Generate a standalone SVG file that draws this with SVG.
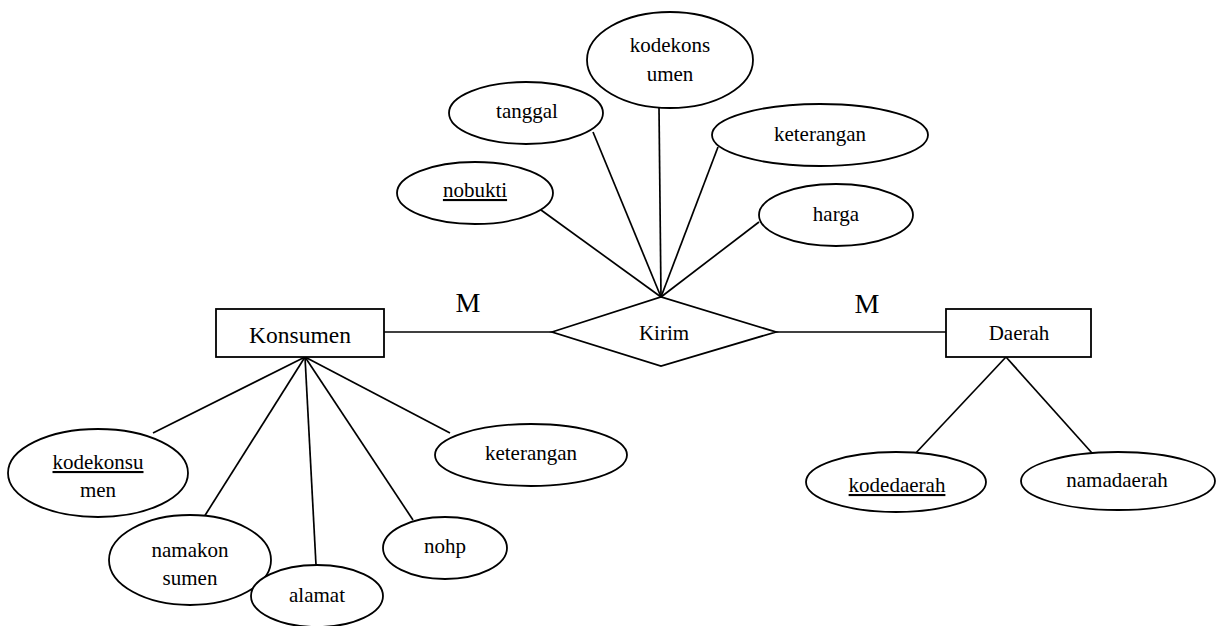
<svg xmlns="http://www.w3.org/2000/svg" width="1219" height="626" viewBox="0 0 1219 626" font-family="Liberation Serif, serif">
<style>
.s{fill:#fff;stroke:#000;stroke-width:1.8}
.c line{stroke:#000;stroke-width:1.7}
text{font-family:'Liberation Serif',serif;font-size:21px;fill:#000;text-anchor:middle}
.u{text-decoration:underline}
.big{font-size:23.5px}
.m{font-size:28px}
</style>
<rect width="1219" height="626" fill="#fff"/>
<g id="connectors" class="c">
<line x1="659" y1="108" x2="661" y2="297"/>
<line x1="593" y1="132" x2="661" y2="297"/>
<line x1="541" y1="210" x2="661" y2="297"/>
<line x1="718" y1="147" x2="661" y2="297"/>
<line x1="759" y1="222" x2="661" y2="297"/>
<line x1="384" y1="332" x2="552" y2="332"/>
<line x1="776" y1="332" x2="946" y2="332"/>
<line x1="305" y1="357" x2="153" y2="433"/>
<line x1="305" y1="357" x2="204" y2="517"/>
<line x1="305" y1="357" x2="316" y2="565"/>
<line x1="305" y1="357" x2="413" y2="520"/>
<line x1="305" y1="357" x2="450" y2="433"/>
<line x1="1006" y1="357" x2="913" y2="456"/>
<line x1="1006" y1="357" x2="1092" y2="453"/>
</g>
<g id="card-left"><text class="m" x="468" y="312">M</text></g>
<g id="card-right"><text class="m" x="867" y="313">M</text></g>
<g id="konsumen"><rect class="s" x="216" y="309" width="168" height="48"/><text class="big" x="300" y="343">Konsumen</text></g>
<g id="kirim"><polygon class="s" points="552,332 661,297 776,332 661,366"/><text x="664" y="340">Kirim</text></g>
<g id="daerah"><rect class="s" x="946" y="309" width="145" height="48"/><text x="1019" y="340">Daerah</text></g>
<g id="kodekonsumen-kirim"><ellipse class="s" cx="670" cy="60" rx="83" ry="48"/><text x="670" y="52">kodekons</text><text x="670" y="81">umen</text></g>
<g id="tanggal"><ellipse class="s" cx="526" cy="113" rx="77" ry="31"/><text x="527" y="118">tanggal</text></g>
<g id="nobukti"><ellipse class="s" cx="475" cy="193" rx="78" ry="31"/><text class="u" x="475" y="197">nobukti</text></g>
<g id="keterangan-kirim"><ellipse class="s" cx="820" cy="135" rx="108" ry="31"/><text x="820" y="141">keterangan</text></g>
<g id="harga"><ellipse class="s" cx="836" cy="215" rx="77" ry="31"/><text x="836" y="221">harga</text></g>
<g id="kodekonsumen"><ellipse class="s" cx="98" cy="473" rx="90" ry="44"/><text class="u" x="98" y="469">kodekonsu</text><text x="98" y="497">men</text></g>
<g id="namakonsumen"><ellipse class="s" cx="190" cy="560" rx="81" ry="45"/><text x="190" y="557">namakon</text><text x="190" y="585">sumen</text></g>
<g id="alamat"><ellipse class="s" cx="317" cy="596" rx="66" ry="31"/><text x="317" y="602">alamat</text></g>
<g id="nohp"><ellipse class="s" cx="445" cy="548" rx="62" ry="31"/><text x="445" y="553">nohp</text></g>
<g id="keterangan-konsumen"><ellipse class="s" cx="531" cy="455" rx="96" ry="31"/><text x="531" y="460">keterangan</text></g>
<g id="kodedaerah"><ellipse class="s" cx="896" cy="482" rx="90" ry="30"/><text class="u" x="897" y="492">kodedaerah</text></g>
<g id="namadaerah"><ellipse class="s" cx="1118" cy="481" rx="97" ry="29"/><text x="1117" y="487">namadaerah</text></g>
</svg>
